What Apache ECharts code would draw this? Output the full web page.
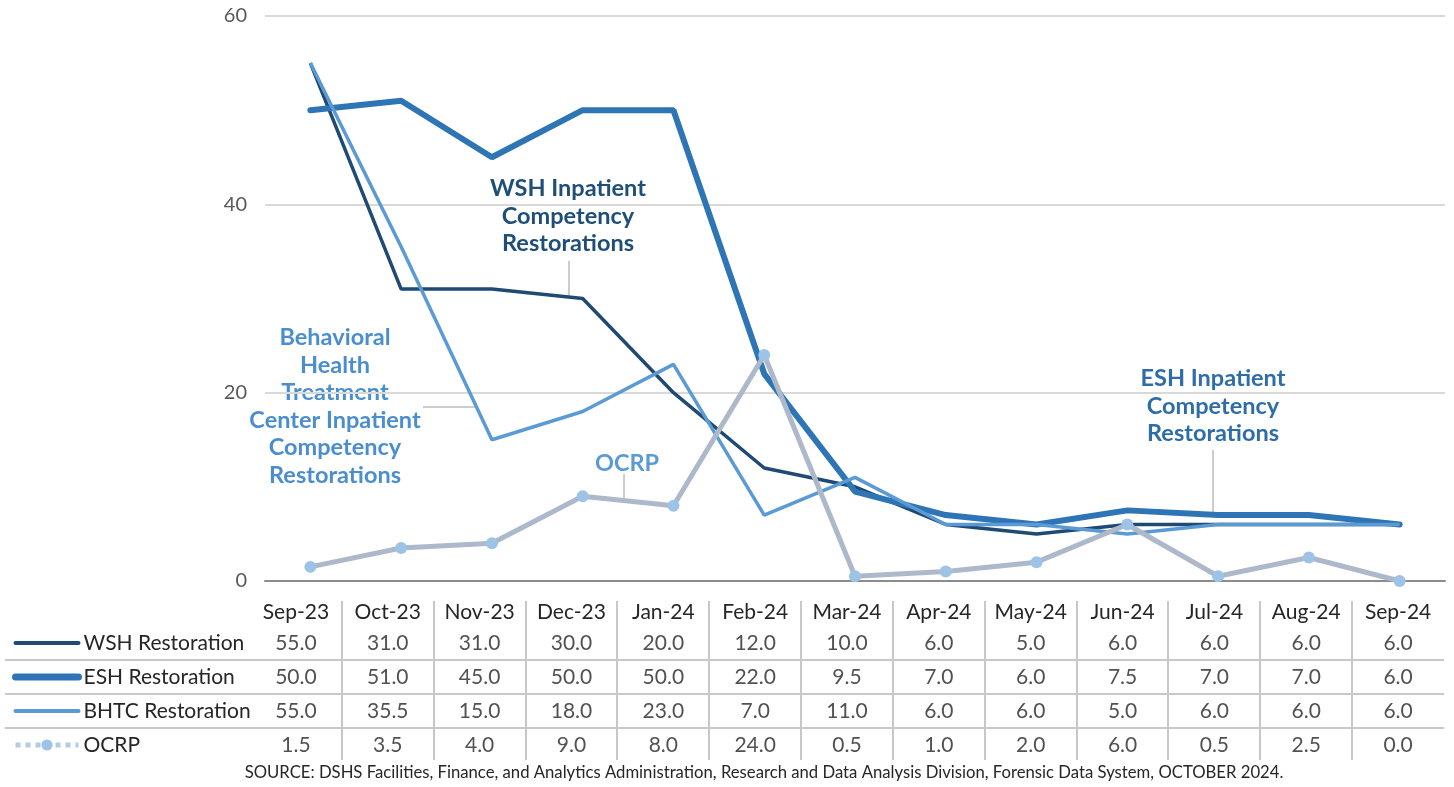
<!DOCTYPE html>
<html>
<head>
<meta charset="utf-8">
<title>Inpatient Competency Restorations</title>
<script src="https://cdn.jsdelivr.net/npm/echarts@6/dist/echarts.min.js"></script>
<style>
  html, body { margin: 0; padding: 0; background: #fff; }
  #chart { width: 1454px; height: 787px; }
</style>
</head>
<body>
<div id="chart"></div>
<script>
const months = ['Sep-23', 'Oct-23', 'Nov-23', 'Dec-23', 'Jan-24', 'Feb-24', 'Mar-24', 'Apr-24', 'May-24', 'Jun-24', 'Jul-24', 'Aug-24', 'Sep-24']
const seriesNames = ['WSH Restoration', 'ESH Restoration', 'BHTC Restoration', 'OCRP']
const wsh = [55, 31, 31, 30, 20, 12, 10, 6, 5, 6, 6, 6, 6]
const esh = [50, 51, 45, 50, 50, 22, 9.5, 7, 6, 7.5, 7, 7, 6]
const bhtc = [55, 35.5, 15, 18, 23, 7, 11, 6, 6, 5, 6, 6, 6]
const ocrp = [1.5, 3.5, 4, 9, 8, 24, 0.5, 1, 2, 6, 0.5, 2.5, 0]
const yTicks = [0, 20, 40, 60]
const sourceText = 'SOURCE: DSHS Facilities, Finance, and Analytics Administration, Research and Data Analysis Division, Forensic Data System, OCTOBER 2024.'

const FONT = 'Lato, "Liberation Sans", sans-serif'
const colors = ['#1f4a74', '#2e75b6', '#5b9bd5', '#adb9ca']

// table layout
const tableLeft = 250
const tableRight = 1444
const tableTop = 626
const rowH = 34
const colW = (tableRight - tableLeft) / months.length

const chart = echarts.init(document.getElementById('chart'))

const rows = [wsh, esh, bhtc, ocrp]
const cellData = []
rows.forEach((vals, r) => {
  vals.forEach((v, i) => {
    cellData.push([i, r, v])
  })
})

// table rules + annotations
const graphics = []
for (let r = 1; r < rows.length; r++) {
  graphics.push({
    type: 'line', silent: true,
    shape: { x1: 5, y1: tableTop + r * rowH, x2: tableRight, y2: tableTop + r * rowH },
    style: { stroke: '#c8c8c8', lineWidth: 2 }
  })
}
for (let c = 1; c < months.length; c++) {
  const x = Math.round(tableLeft + c * colW)
  graphics.push({
    type: 'line', silent: true,
    shape: { x1: x, y1: 601, x2: x, y2: 760 },
    style: { stroke: '#c8c8c8', lineWidth: 2 }
  })
}

function note(text, x, y, color) {
  return {
    type: 'text', silent: true, x: x, y: y,
    style: {
      text: text, fill: color, align: 'center', verticalAlign: 'top',
      font: 'bold 23.5px ' + FONT, lineHeight: 27.5
    }
  }
}
function leader(x1, y1, x2, y2) {
  return {
    type: 'line', silent: true,
    shape: { x1: x1, y1: y1, x2: x2, y2: y2 },
    style: { stroke: '#9a9a9a', lineWidth: 1 }
  }
}
graphics.push(note('WSH Inpatient\nCompetency\nRestorations', 568, 175, '#1f4e79'))
graphics.push(leader(569, 261, 569, 296))
graphics.push(note('Behavioral\nHealth\nTreatment\nCenter Inpatient\nCompetency\nRestorations', 335, 324, '#4a8ed0'))
graphics.push(leader(423, 407, 476, 407))
graphics.push(note('OCRP', 627, 450, '#5b9bd5'))
graphics.push(leader(624, 474, 624, 501))
graphics.push(note('ESH Inpatient\nCompetency\nRestorations', 1213, 365, '#2e6da8'))
graphics.push(leader(1213, 450, 1213, 513))
graphics.push({
  type: 'text', silent: true, x: 764, y: 773,
  style: { text: sourceText, fill: '#262626', align: 'center', verticalAlign: 'middle', font: '16.7px ' + FONT }
})

const option = {
  animation: false,
  color: colors,
  textStyle: { fontFamily: FONT },
  grid: [{
    left: 265,
    right: 9,
    top: 16,
    bottom: 206
  }, {
    left: tableLeft,
    right: 1454 - tableRight,
    top: tableTop,
    height: rowH * rows.length
  }],
  legend: {
    orient: 'vertical',
    left: 12,
    top: tableTop,
    padding: 0,
    itemGap: 0,
    itemWidth: 63,
    itemHeight: 14,
    textStyle: { fontSize: 21, color: '#262626', lineHeight: rowH },
    selectedMode: false,
    data: [
      { name: 'WSH Restoration', itemStyle: { opacity: 0 }, lineStyle: { width: 4, color: colors[0], cap: 'round' } },
      { name: 'ESH Restoration', itemStyle: { opacity: 0 }, lineStyle: { width: 7, color: colors[1], cap: 'round' } },
      { name: 'BHTC Restoration', itemStyle: { opacity: 0 }, lineStyle: { width: 4, color: colors[2], cap: 'round' } },
      { name: 'OCRP', lineStyle: { type: 'dotted', color: '#b4cbe6', width: 5 } }
    ]
  },
  xAxis: [{
    type: 'category',
    gridIndex: 0,
    data: months,
    boundaryGap: true,
    axisLabel: { show: false },
    axisTick: { show: false },
    axisLine: { lineStyle: { color: '#8c8c8c', width: 2 } }
  }, {
    type: 'category',
    gridIndex: 1,
    data: months,
    position: 'top',
    axisLabel: { fontSize: 21, color: '#262626', margin: 3, interval: 0 },
    axisTick: { show: false },
    axisLine: { show: false }
  }],
  yAxis: [{
    type: 'value',
    gridIndex: 0,
    min: yTicks[0],
    max: yTicks[yTicks.length - 1],
    interval: 20,
    axisLabel: { fontSize: 20, color: '#595959', margin: 18 },
    axisLine: { show: false },
    axisTick: { show: false },
    splitLine: { lineStyle: { color: '#d9d9d9', width: 2 } }
  }, {
    type: 'category',
    gridIndex: 1,
    inverse: true,
    data: seriesNames,
    show: false
  }],
  series: [{
    name: seriesNames[0],
    type: 'line',
    data: wsh,
    symbol: 'none',
    lineStyle: { width: 3.5, color: colors[0] },
    z: 2
  }, {
    name: seriesNames[1],
    type: 'line',
    data: esh,
    symbol: 'none',
    lineStyle: { width: 6, color: colors[1], cap: 'round' },
    z: 3
  }, {
    name: seriesNames[2],
    type: 'line',
    data: bhtc,
    symbol: 'none',
    lineStyle: { width: 3.5, color: colors[2] },
    z: 4
  }, {
    name: seriesNames[3],
    type: 'line',
    data: ocrp,
    symbol: 'circle',
    symbolSize: 12,
    itemStyle: { color: '#9dc3e6' },
    lineStyle: { width: 5, color: colors[3] },
    z: 5
  }, {
    name: 'table',
    type: 'scatter',
    xAxisIndex: 1,
    yAxisIndex: 1,
    data: cellData,
    symbolSize: 0,
    silent: true,
    label: {
      show: true,
      position: 'inside',
      fontSize: 21,
      color: '#262626',
      formatter: p => p.value[2].toFixed(1)
    }
  }],
  graphic: graphics
}

chart.setOption(option)
</script>
</body>
</html>
